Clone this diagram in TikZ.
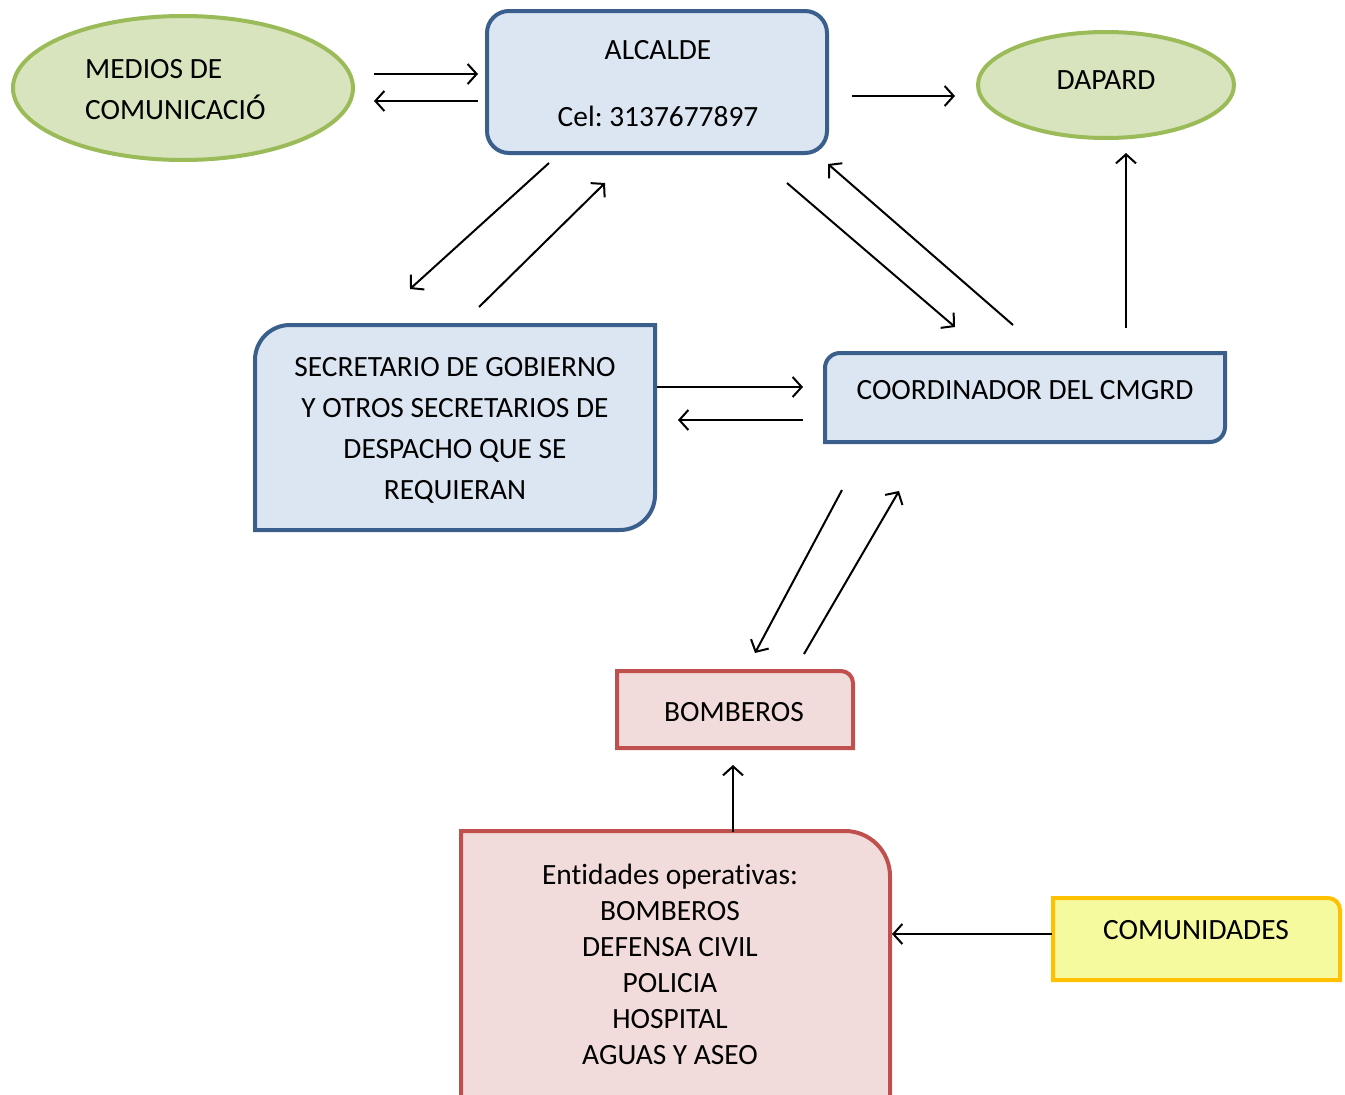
\documentclass[tikz,border=0pt]{standalone}
\usepackage{fontspec}
\setmainfont[Ligatures={NoCommon}]{Carlito}
\frenchspacing
\usetikzlibrary{arrows.meta}
\definecolor{bfill}{HTML}{DCE6F2}
\definecolor{bdraw}{HTML}{3A5F8D}
\definecolor{gfill}{HTML}{D7E4BD}
\definecolor{gdraw}{HTML}{9BBB59}
\definecolor{rfill}{HTML}{F2DCDB}
\definecolor{rdraw}{HTML}{C0504D}
\definecolor{yfill}{HTML}{F6FA9E}
\definecolor{ydraw}{HTML}{FFC000}
\begin{document}
\begin{tikzpicture}[x=1pt,y=-1pt,
  lbl/.style={font=\fontsize{29.4}{34}\selectfont, anchor=base, inner sep=0pt},
  arr/.style={line width=2pt, -{Straight Barb[length=9pt,width=20pt,line width=2pt]}},
  bshape/.style={fill=bfill, draw=bdraw, line width=4pt},
  gshape/.style={fill=gfill, draw=gdraw, line width=4pt},
  rshape/.style={fill=rfill, draw=rdraw, line width=4pt},
  yshape/.style={fill=yfill, draw=ydraw, line width=4pt}]
\fill[white] (0,0) rectangle (1345,1095);
\useasboundingbox (0,0) rectangle (1345,1095);
% shapes
\draw[gshape] (183,88) ellipse[x radius=170, y radius=72];
\draw[gshape] (1106,85) ellipse[x radius=128, y radius=53];
\draw[bshape, rounded corners=22pt] (487,11) rectangle (827,153);
\draw[bshape] (255,530) -- (255,360) arc[start angle=180,end angle=270,radius=35] -- (655,325) -- (655,495) arc[start angle=0,end angle=90,radius=35] -- cycle;
\draw[bshape] (825,442) -- (825,368) arc[start angle=180,end angle=270,radius=15] -- (1225,353) -- (1225,427) arc[start angle=0,end angle=90,radius=15] -- cycle;
\draw[rshape] (617,748) -- (617,671) -- (841,671) arc[start angle=270,end angle=360,radius=12] -- (853,748) -- cycle;
\draw[rshape] (461,1110) -- (461,831) -- (845,831) arc[start angle=270,end angle=360,radius=45] -- (890,1110) -- cycle;
\draw[yshape] (1053,980) -- (1053,898) -- (1328,898) arc[start angle=270,end angle=360,radius=12] -- (1340,980) -- cycle;
% texts
\node[lbl, anchor=base west] (medios1) at (85,78) {MEDIOS DE};
\node[lbl, anchor=base west] (medios2) at (85,119) {COMUNICACIÓ};
\node[lbl] (dapard) at (1106,89) {DAPARD};
\node[lbl] (alc1) at (658,59) {ALCALDE};
\node[lbl] (alc2) at (658,126) {Cel: 3137677897};
\node[lbl] (sec1) at (455,376) {SECRETARIO DE GOBIERNO};
\node[lbl] (sec2) at (455,417) {Y OTROS SECRETARIOS DE};
\node[lbl] (sec3) at (455,458) {DESPACHO QUE SE};
\node[lbl] (sec4) at (455,499) {REQUIERAN};
\node[lbl] (coord) at (1025,399) {COORDINADOR DEL CMGRD};
\node[lbl] (bomb) at (734,721) {BOMBEROS};
\node[lbl] (ent1) at (670,884) {Entidades operativas:};
\node[lbl] (ent2) at (670,920) {BOMBEROS};
\node[lbl] (ent3) at (670,956) {DEFENSA CIVIL};
\node[lbl] (ent4) at (670,992) {POLICIA};
\node[lbl] (ent5) at (670,1028) {HOSPITAL};
\node[lbl] (ent6) at (670,1064) {AGUAS Y ASEO};
\node[lbl] (comu) at (1196,939) {COMUNIDADES};
% arrow ends
\coordinate (m2a) at (374,74);   \coordinate (a2m) at (478,74);
\coordinate (a3m) at (478,101);  \coordinate (m3a) at (374,101);
\coordinate (a2d) at (852,96);   \coordinate (d2a) at (955,96);
\coordinate (a2s) at (549,163);  \coordinate (s2a) at (410,289);
\coordinate (s3a) at (479,307);  \coordinate (a3s) at (605,183);
\coordinate (a2c) at (787,183);  \coordinate (c2a) at (955,327);
\coordinate (c3a) at (1013,325); \coordinate (a3c) at (828,164);
\coordinate (c2d) at (1126,328); \coordinate (d2c) at (1126,153);
\coordinate (s2c) at (657,387);  \coordinate (c2s) at (803,387);
\coordinate (c3s) at (803,420);  \coordinate (s3c) at (678,420);
\coordinate (c2b) at (842,490);  \coordinate (b2c) at (755,653);
\coordinate (b3c) at (804,654);  \coordinate (c3b) at (899,491);
\coordinate (e2b) at (733,832);  \coordinate (b2e) at (733,765);
\coordinate (k2e) at (1052,934); \coordinate (e2k) at (892,934);
% connectors
\draw[arr] (m2a) -- (a2m);
\draw[arr] (a3m) -- (m3a);
\draw[arr] (a2d) -- (d2a);
\draw[arr] (a2s) -- (s2a);
\draw[arr] (s3a) -- (a3s);
\draw[arr] (a2c) -- (c2a);
\draw[arr] (c3a) -- (a3c);
\draw[arr] (c2d) -- (d2c);
\draw[arr] (s2c) -- (c2s);
\draw[arr] (c3s) -- (s3c);
\draw[arr] (c2b) -- (b2c);
\draw[arr] (b3c) -- (c3b);
\draw[arr] (e2b) -- (b2e);
\draw[arr] (k2e) -- (e2k);
\end{tikzpicture}
\end{document}
